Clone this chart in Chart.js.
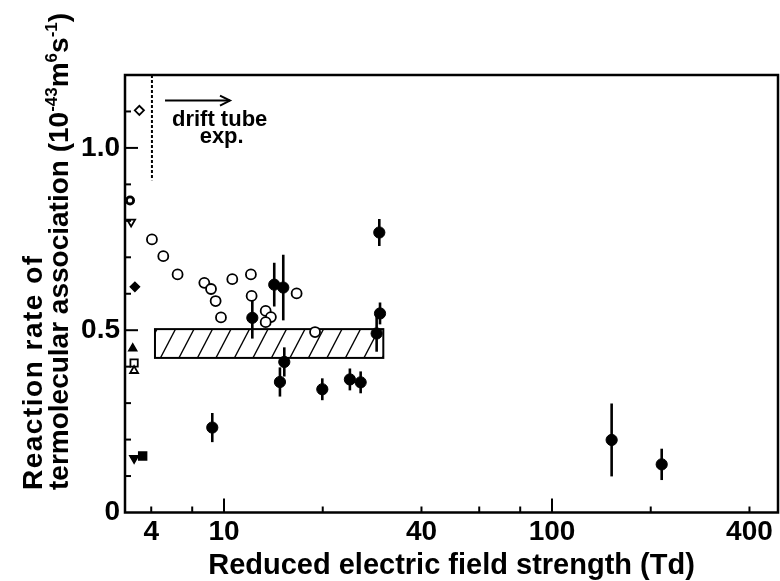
<!DOCTYPE html>
<html><head><meta charset="utf-8">
<script src="https://cdn.jsdelivr.net/npm/chart.js@4.4.1/dist/chart.umd.min.js"></script>
<style>html,body{margin:0;padding:0;background:#fff}</style>
</head><body>
<canvas id="c" width="780" height="581"></canvas>
<script>
// ---- data (reduced field strength in Td on the plotted log scale, rate in 1e-43 m^6 s^-1) ----
const xTickValues = [6, 8, 10, 20, 40, 60, 80, 100, 200, 400];
const xTickLabels = ['4', '', '10', '', '40', '', '', '100', '', '400'];
const xMajorTicks = [10, 100];
const yTickValues = [0, 0.5, 1.0];
const yTickLabels = ['0', '0.5', '1.0'];
const yMinorTicks = [0.1, 0.2, 0.3, 0.4, 0.5, 0.6, 0.7, 0.8, 0.9, 1.0, 1.1];
const yMajorTicks = [0.5, 1.0];

// drift tube, open circles
const openX = [6.03, 6.53, 7.22, 8.71, 9.13, 9.43, 9.79, 10.6, 12.08, 12.14, 13.4, 13.9, 13.4, 16.65, 18.95];
const openY = [0.749, 0.703, 0.653, 0.630, 0.613, 0.580, 0.535, 0.640, 0.653, 0.594, 0.553, 0.536, 0.522, 0.601, 0.495];

// drift tube, filled circles with error bars
const fillX = [9.21, 12.2, 14.23, 15.16, 15.27, 14.81, 19.94, 24.2, 26.1, 29.2, 29.75, 29.9, 152, 216];
const fillY = [0.233, 0.534, 0.625, 0.617, 0.413, 0.358, 0.338, 0.365, 0.357, 0.491, 0.768, 0.546, 0.199, 0.132];
const fillErr = [0.04, 0.057, 0.06, 0.09, 0.04, 0.04, 0.03, 0.03, 0.03, 0.05, 0.037, 0.03, 0.10, 0.043];

// other (thermal) experiments at the left edge
const refX = [5.52, 5.17, 5.21, 5.35, 5.27, 5.32, 5.32, 5.32, 5.65];
const refY = [1.103, 0.856, 0.797, 0.619, 0.450, 0.410, 0.389, 0.149, 0.155];

// hatched band
const bandX = [6.16, 30.6];
const bandY = [0.424, 0.503];

// drift tube marker line and arrow
const dashX = [6.03];
const dashY = [0.911, 1.2];
const arrowX = [6.61, 10.43];
const arrowY = [1.13];
const noteX = [9.7];
const noteY = [1.06];

// ---- styles ----
const FONT = '"Liberation Sans", Arial, sans-serif';
const refStyle  = ['rectRot', 'circle', 'triangle', 'rectRot', 'triangle', 'rect', 'triangle', 'triangle', 'rect'];
const refRot    = [0, 0, 180, 0, 0, 0, 0, 180, 0];
const refFill   = ['#fff', '#fff', '#fff', '#000', '#000', '#fff', '#fff', '#000', '#000'];
const refRadius = [4.6, 3.6, 4.6, 4.6, 4.6, 5.2, 4.6, 5.0, 5.6];
const refBorder = [1.8, 2.8, 1.8, 1.5, 1.5, 1.8, 1.8, 1.5, 1.5];

const decor = {
  id: 'decor',
  beforeDatasetsDraw(chart) {
    const {ctx, scales: {x, y}} = chart;
    ctx.save();
    // hatched band
    const l = x.getPixelForValue(bandX[0]), r = x.getPixelForValue(bandX[1]);
    const t = y.getPixelForValue(bandY[1]), b = y.getPixelForValue(bandY[0]);
    ctx.fillStyle = '#fff';
    ctx.fillRect(l, t, r - l, b - t);
    ctx.save();
    ctx.beginPath(); ctx.rect(l, t, r - l, b - t); ctx.clip();
    ctx.strokeStyle = '#000'; ctx.lineWidth = 1.3;
    const run = 15, step = 18.5;
    for (let s = l - run + 2; s < r + run; s += step) {
      ctx.beginPath(); ctx.moveTo(s, b); ctx.lineTo(s + run, t); ctx.stroke();
    }
    ctx.restore();
    ctx.strokeStyle = '#000'; ctx.lineWidth = 2;
    ctx.strokeRect(l, t, r - l, b - t);

    // error bars
    ctx.lineWidth = 2.6; ctx.lineCap = 'butt';
    for (let i = 0; i < fillX.length; i++) {
      const px = x.getPixelForValue(fillX[i]);
      ctx.beginPath();
      ctx.moveTo(px, y.getPixelForValue(fillY[i] - fillErr[i]));
      ctx.lineTo(px, y.getPixelForValue(fillY[i] + fillErr[i]));
      ctx.stroke();
    }

    // dashed marker line
    const dx = x.getPixelForValue(dashX[0]);
    ctx.setLineDash([3, 2]); ctx.lineWidth = 2;
    ctx.beginPath(); ctx.moveTo(dx, y.getPixelForValue(dashY[1])); ctx.lineTo(dx, y.getPixelForValue(dashY[0])); ctx.stroke();
    ctx.setLineDash([]);

    // arrow
    const a0 = x.getPixelForValue(arrowX[0]), a1 = x.getPixelForValue(arrowX[1]), ay = y.getPixelForValue(arrowY[0]);
    ctx.lineWidth = 2;
    ctx.beginPath(); ctx.moveTo(a0, ay); ctx.lineTo(a1, ay); ctx.stroke();
    ctx.beginPath(); ctx.moveTo(a1 - 10, ay - 5); ctx.lineTo(a1, ay); ctx.lineTo(a1 - 10, ay + 5); ctx.stroke();

    // note text
    const nx = x.getPixelForValue(noteX[0]), ny = y.getPixelForValue(noteY[0]);
    ctx.fillStyle = '#000'; ctx.textAlign = 'center'; ctx.textBaseline = 'alphabetic';
    ctx.font = 'bold 22px ' + FONT;
    ctx.fillText('drift tube', nx, ny);
    ctx.fillText('exp.', nx + 2, ny + 17);
    ctx.restore();
  },
  afterDraw(chart) {
    const {ctx, chartArea: ca, scales: {x, y}} = chart;
    ctx.save();
    ctx.strokeStyle = '#000';
    // frame
    ctx.lineWidth = 2.5;
    ctx.strokeRect(ca.left, ca.top, ca.right - ca.left, ca.bottom - ca.top);
    // inward ticks
    ctx.lineWidth = 2;
    yMinorTicks.forEach(v => {
      const py = y.getPixelForValue(v);
      const len = yMajorTicks.includes(v) ? 13 : 6;
      ctx.beginPath(); ctx.moveTo(ca.left, py); ctx.lineTo(ca.left + len, py); ctx.stroke();
    });
    xTickValues.forEach(v => {
      const px = x.getPixelForValue(v);
      const len = xMajorTicks.includes(v) ? 14 : 6;
      ctx.beginPath(); ctx.moveTo(px, ca.bottom); ctx.lineTo(px, ca.bottom - len); ctx.stroke();
    });
    // y axis title (two rotated lines with superscripts)
    ctx.fillStyle = '#000'; ctx.textAlign = 'left'; ctx.textBaseline = 'alphabetic';
    ctx.save();
    ctx.translate(42, 490); ctx.rotate(-Math.PI / 2);
    ctx.font = 'bold 28px ' + FONT;
    ctx.letterSpacing = '1.5px';
    ctx.fillText('Reaction rate of', 0, 0);
    ctx.restore();
    ctx.save();
    ctx.translate(68, 490); ctx.rotate(-Math.PI / 2);
    ctx.letterSpacing = '0px';
    const parts = [['termolecular association (10', 0, 28], ['-43', -11, 17], ['m', 0, 28], ['6', -11, 17], ['s', 0, 28], ['-1', -11, 17], [')', 0, 28]];
    let cx = 0;
    parts.forEach(([txt, dy, sz]) => {
      ctx.font = 'bold ' + sz + 'px ' + FONT;
      ctx.fillText(txt, cx, dy);
      cx += ctx.measureText(txt).width;
    });
    ctx.restore();
    ctx.restore();
  }
};

new Chart(document.getElementById('c'), {
  type: 'scatter',
  data: {
    datasets: [
      {
        data: refX.map((v, i) => ({x: v, y: refY[i]})),
        pointStyle: refStyle, rotation: refRot, backgroundColor: refFill,
        borderColor: '#000', pointRadius: refRadius, borderWidth: refBorder
      },
      {
        data: openX.map((v, i) => ({x: v, y: openY[i]})),
        pointStyle: 'circle', backgroundColor: '#fff', borderColor: '#000',
        pointRadius: 5, borderWidth: 1.8
      },
      {
        data: fillX.map((v, i) => ({x: v, y: fillY[i]})),
        pointStyle: 'circle', backgroundColor: '#000', borderColor: '#000',
        pointRadius: 5.6, borderWidth: 1
      }
    ]
  },
  options: {
    responsive: false, animation: false,
    layout: {autoPadding: false, padding: {top: 75, right: 2, left: 0, bottom: 0}},
    plugins: {legend: {display: false}, tooltip: {enabled: false}},
    scales: {
      x: {
        type: 'logarithmic', min: 4.991, max: 488.7, position: 'bottom',
        afterBuildTicks: s => { s.ticks = xTickValues.map(v => ({value: v})); },
        afterFit: s => { s.height = 68.5; s.paddingLeft = 0; s.paddingRight = 0; },
        grid: {display: false, drawTicks: false}, border: {display: false},
        ticks: {autoSkip: false, maxRotation: 0, minRotation: 0, padding: 3, color: '#000',
          font: {family: FONT, size: 28, weight: 'bold'},
          callback: (v, i) => xTickLabels[i]},
        title: {display: true, text: 'Reduced electric field strength (Td)', color: '#000',
          font: {family: FONT, size: 29, weight: 'bold', lineHeight: 1}, padding: {top: 0, bottom: 1}}
      },
      y: {
        min: 0, max: 1.2,
        afterBuildTicks: s => { s.ticks = yTickValues.map(v => ({value: v})); },
        afterFit: s => { s.width = 125; s.paddingTop = 0; s.paddingBottom = 0; },
        grid: {display: false, drawTicks: false}, border: {display: false},
        ticks: {padding: 5, color: '#000', font: {family: FONT, size: 28, weight: 'bold'},
          callback: (v, i) => yTickLabels[i]}
      }
    }
  },
  plugins: [decor]
});
</script>
</body></html>
